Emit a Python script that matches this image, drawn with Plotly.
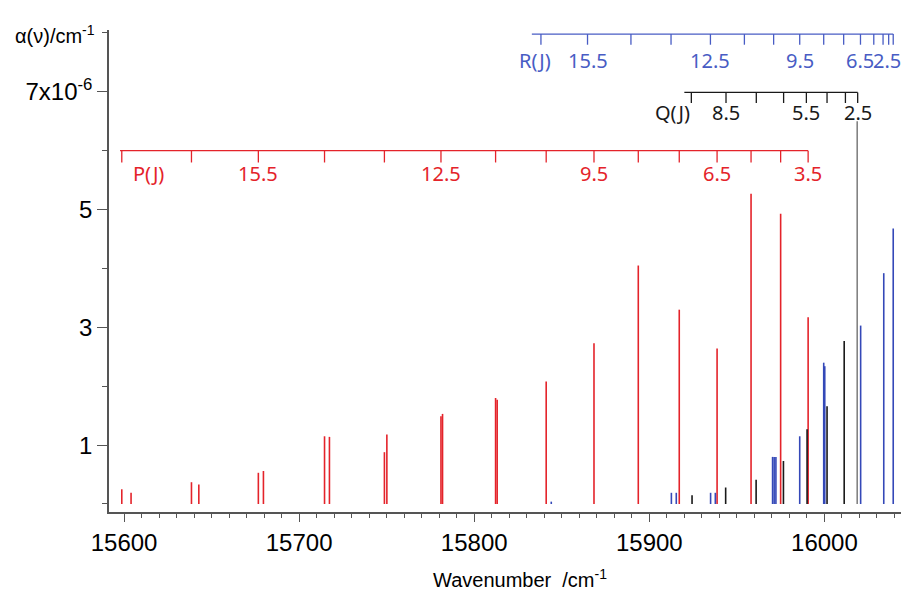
import plotly.graph_objects as go

# ---------------- data ----------------
# P-branch lines (red): wavenumber /cm-1, absorption /1e-6 cm-1
p_wn = [15598.7, 15604.0, 15638.5, 15642.7, 15676.7, 15679.6, 15714.5, 15717.3,
        15748.7, 15750.1, 15781.0, 15781.9, 15812.2, 15813.1, 15841.1, 15868.4,
        15893.7, 15917.1, 15938.7, 15958.1, 15975.0, 15990.7]
p_int = [0.25, 0.19, 0.37, 0.33, 0.53, 0.56, 1.15, 1.14,
         0.88, 1.18, 1.49, 1.53, 1.80, 1.77, 2.08, 2.73,
         4.05, 3.30, 2.64, 5.27, 4.93, 3.17]

# R-branch lines (blue)
r_wn = [15844.0, 15912.6, 15915.4, 15935.0, 15937.7, 15970.4, 15971.3, 15972.3,
        15985.9, 15999.6, 16000.2, 16020.7, 16033.9, 16039.3]
r_int = [0.04, 0.19, 0.19, 0.19, 0.19, 0.80, 0.80, 0.80,
         1.15, 2.40, 2.34, 3.03, 3.92, 4.68]

# Q-branch lines (black / grey)
q_wn = [15924.4, 15943.6, 15961.0, 15976.6, 15990.1, 16001.5, 16011.3, 16018.7]
q_int = [0.15, 0.28, 0.41, 0.73, 1.27, 1.66, 2.77, 6.50]

# assignment combs
p_comb_wn = [15598.7, 15638.5, 15676.7, 15714.5, 15748.7, 15781.0, 15812.2, 15841.1,
             15868.4, 15893.7, 15917.1, 15938.7, 15958.1, 15975.0, 15990.7]
p_comb_J = [17.5, 16.5, 15.5, 14.5, 13.5, 12.5, 11.5, 10.5, 9.5, 8.5, 7.5, 6.5, 5.5, 4.5, 3.5]
p_comb_labeled = [15.5, 12.5, 9.5, 6.5, 3.5]

r_comb_wn = [15838.1, 15864.7, 15889.5, 15912.4, 15934.9, 15954.3, 15971.0, 15985.9,
             15999.6, 16011.0, 16020.6, 16028.2, 16033.5, 16036.7, 16039.3]
r_comb_J = [16.5, 15.5, 14.5, 13.5, 12.5, 11.5, 10.5, 9.5, 8.5, 7.5, 6.5, 5.5, 4.5, 3.5, 2.5]
r_comb_labeled = [15.5, 12.5, 9.5, 6.5, 2.5]

q_comb_wn = [15924.0, 15943.8, 15961.1, 15976.7, 15989.7, 16001.5, 16012.0, 16019.0]
q_comb_J = [9.5, 8.5, 7.5, 6.5, 5.5, 4.5, 3.5, 2.5]
q_comb_labeled = [8.5, 5.5, 2.5]

y_tickvals = [1, 3, 5, 7]
y_ticktext = ["1", "3", "5", "7x10<sup>-6</sup>"]
x_tickvals = [15600, 15700, 15800, 15900, 16000]
x_ticktext = ["15600", "15700", "15800", "15900", "16000"]

# ---------------- styling ----------------
RED = "rgb(228,35,42)"
BLUE = "rgb(52,72,184)"
BLUE_C = "rgb(72,92,196)"
BLACK = "rgb(25,25,25)"
FONT = "Liberation Sans, Arial, sans-serif"
CFONT = "Noto Sans, Liberation Sans, sans-serif"


def sticks(xs, hs):
    X, Y = [], []
    for x, h in zip(xs, hs):
        X += [x, x, None]
        Y += [0, h, None]
    return X, Y


def comb(xs, start, y0, y1):
    X = [start, xs[-1], None]
    Y = [y0, y0, None]
    for x in xs:
        X += [x, x, None]
        Y += [y0, y1, None]
    return X, Y


fig = go.Figure()

x, y = sticks(p_wn, p_int)
fig.add_trace(go.Scatter(x=x, y=y, mode="lines", line=dict(color=RED, width=1.6),
                         hoverinfo="skip", showlegend=False))
x, y = sticks(q_wn[:-1], q_int[:-1])
fig.add_trace(go.Scatter(x=x, y=y, mode="lines", line=dict(color=BLACK, width=1.6),
                         hoverinfo="skip", showlegend=False))
x, y = sticks(q_wn[-1:], q_int[-1:])
fig.add_trace(go.Scatter(x=x, y=y, mode="lines", line=dict(color="rgb(90,90,90)", width=1.2),
                         hoverinfo="skip", showlegend=False))
x, y = sticks(r_wn, r_int)
fig.add_trace(go.Scatter(x=x, y=y, mode="lines", line=dict(color=BLUE, width=1.6),
                         hoverinfo="skip", showlegend=False))

# combs
x, y = comb(p_comb_wn, 15597.7, 6.0, 5.8)
fig.add_trace(go.Scatter(x=x, y=y, mode="lines", line=dict(color=RED, width=1.3),
                         hoverinfo="skip", showlegend=False))
x, y = comb(r_comb_wn, 15832.9, 7.98, 7.80)
fig.add_trace(go.Scatter(x=x, y=y, mode="lines", line=dict(color=BLUE_C, width=1.3),
                         hoverinfo="skip", showlegend=False))
x, y = comb(q_comb_wn, 15920.0, 6.99, 6.81)
fig.add_trace(go.Scatter(x=x, y=y, mode="lines", line=dict(color=BLACK, width=1.3),
                         hoverinfo="skip", showlegend=False))

ann = []


def comb_labels(xs, Js, labeled, ylab, color, xshift_last=0):
    for xv, J in zip(xs, Js):
        if J in labeled:
            ann.append(dict(x=xv, y=ylab, xref="x", yref="y", text=f"{J}",
                            showarrow=False, xanchor="center", yanchor="middle",
                            xshift=(xshift_last if xv == xs[-1] else 0),
                            font=dict(family=CFONT, size=20, color=color)))


comb_labels(p_comb_wn, p_comb_J, p_comb_labeled, 5.615, RED)
comb_labels(r_comb_wn, r_comb_J, r_comb_labeled, 7.54, BLUE_C, xshift_last=-6)
comb_labels(q_comb_wn, q_comb_J, q_comb_labeled, 6.65, BLACK)

ann.append(dict(x=15613.7, y=5.615, xref="x", yref="y", text="P(J)", showarrow=False,
                xanchor="center", yanchor="middle", font=dict(family=CFONT, size=20, color=RED)))
ann.append(dict(x=15834.9, y=7.54, xref="x", yref="y", text="R(J)", showarrow=False,
                xanchor="center", yanchor="middle", font=dict(family=CFONT, size=20, color=BLUE_C)))
ann.append(dict(x=15913.5, y=6.65, xref="x", yref="y", text="Q(J)", showarrow=False,
                xanchor="center", yanchor="middle", font=dict(family=CFONT, size=20, color=BLACK)))

# axis titles
ann.append(dict(x=-0.121, y=0.99, xref="paper", yref="paper", text="α(ν)/cm<sup>-1</sup>",
                showarrow=False, xanchor="left", yanchor="middle",
                font=dict(family=FONT, size=20, color="black")))
ann.append(dict(x=0.516, y=-0.137, xref="paper", yref="paper", text="Wavenumber  /cm<sup>-1</sup>",
                showarrow=False, xanchor="center", yanchor="middle",
                font=dict(family=FONT, size=20, color="black")))

# the page adds an 8px body margin, so the figure is sized to fill the rest of the window
fig.update_layout(
    width=901, height=584,
    margin=dict(l=101, r=3, t=22, b=80, autoexpand=False),
    paper_bgcolor="white", plot_bgcolor="white",
    annotations=ann,
    showlegend=False,
)
fig.update_xaxes(range=[15591.4, 16046.6], showline=True, linecolor="#555", linewidth=1.5,
                 ticks="outside", ticklen=8, tickcolor="#555", tickwidth=1.2,
                 tickvals=x_tickvals, ticktext=x_ticktext, automargin=False,
                 minor=dict(dtick=10, tick0=15600, ticklen=4, ticks="outside", tickcolor="#555"),
                 showgrid=False, zeroline=False,
                 tickfont=dict(family=FONT, size=24, color="black"))
fig.update_yaxes(range=[-0.136, 8.05], showline=True, linecolor="#555", linewidth=1.5,
                 ticks="outside", ticklen=10, tickcolor="#555", tickwidth=1.2,
                 tickvals=y_tickvals, ticktext=y_ticktext, automargin=False,
                 minor=dict(dtick=1, tick0=0, ticklen=5, ticks="outside", tickcolor="#555"),
                 showgrid=False, zeroline=False,
                 tickfont=dict(family=FONT, size=24, color="black"))

fig.write_html("out.html")
